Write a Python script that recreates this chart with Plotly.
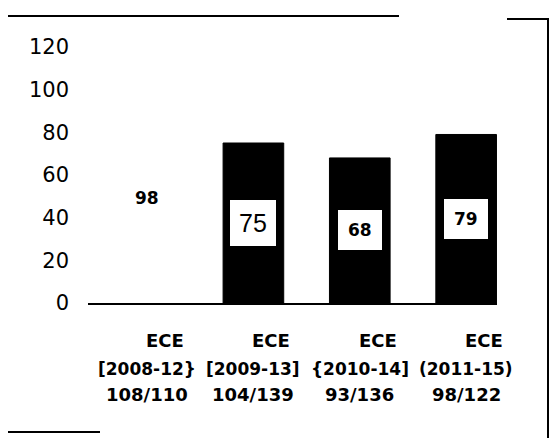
import plotly.graph_objects as go

categories = ["ECE (2008-12)", "ECE (2009-13)", "ECE (2010-14)", "ECE (2011-15)"]
values = [98, 75, 68, 79]
label_row1 = ["ECE", "ECE", "ECE", "ECE"]
label_row2 = ["[2008-12}", "[2009-13]", "{2010-14]", "(2011-15)"]
label_row3 = ["108/110", "104/139", "93/136", "98/122"]
bar_colors = ["white", "black", "black", "black"]
y_ticks = [0, 20, 40, 60, 80, 100, 120]

fig = go.Figure()
fig.add_trace(go.Bar(
    x=categories, y=values,
    marker=dict(color=bar_colors, line=dict(color=bar_colors, width=1)),
    width=0.57, showlegend=False, hoverinfo="skip",
))

annotations = []
# value labels in the middle of each bar
for i, (c, v) in enumerate(zip(categories, values)):
    if i == 0:
        annotations.append(dict(x=c, y=v / 2, xref="x", yref="y", text="<b>%d</b>" % v,
                                showarrow=False, font=dict(family="DejaVu Sans", size=17, color="black")))
    else:
        size = 25 if i == 1 else 17
        family = "Liberation Sans" if i == 1 else "DejaVu Sans"
        txt = "%d" % v if i == 1 else "<b>%d</b>" % v
        annotations.append(dict(x=c, y=v / 2, xref="x", yref="y", text=txt,
                                showarrow=False, bgcolor="white", bordercolor="black",
                                borderwidth=1, borderpad=9 if i == 1 else 10,
                                font=dict(family=family, size=size, color="black")))

# category labels (three rows)
rows = [(label_row1, -37, 18, 18), (label_row2, -66, 0, 17), (label_row3, -91, 0, 18)]
for texts, ysh, xsh, fsize in rows:
    for c, t in zip(categories, texts):
        annotations.append(dict(x=c, y=0, xref="x", yref="paper", text="<b>%s</b>" % t,
                                showarrow=False, yanchor="middle", yshift=ysh, xshift=xsh,
                                font=dict(family="DejaVu Sans", size=fsize, color="black")))

shapes = [
    dict(type="line", xref="paper", yref="paper", x0=(8 - 88) / 409, x1=(399 - 88) / 409,
         y0=(303 - 16) / 256, y1=(303 - 16) / 256, line=dict(color="black", width=2)),
    dict(type="line", xref="paper", yref="paper", x0=(507 - 88) / 409, x1=(549 - 88) / 409,
         y0=(303 - 19) / 256, y1=(303 - 19) / 256, line=dict(color="black", width=2)),
    dict(type="line", xref="paper", yref="paper", x0=(548 - 88) / 409, x1=(548 - 88) / 409,
         y0=(303 - 19) / 256, y1=(303 - 438) / 256, line=dict(color="black", width=2)),
    dict(type="line", xref="paper", yref="paper", x0=(8 - 88) / 409, x1=(100 - 88) / 409,
         y0=(303 - 432) / 256, y1=(303 - 432) / 256, line=dict(color="black", width=2)),
]

fig.update_layout(
    width=551, height=438,
    margin=dict(l=88, r=54, t=47, b=135),
    plot_bgcolor="white", paper_bgcolor="white",
    annotations=annotations,
    shapes=shapes,
    xaxis=dict(range=[-0.555, 3.29], showticklabels=False, showgrid=False, zeroline=False,
               showline=True, linecolor="black", linewidth=2, ticks=""),
    yaxis=dict(range=[0, 120], tickvals=y_ticks, showgrid=False, zeroline=False,
               showline=False, ticks="", ticklabelstandoff=18,
               tickfont=dict(family="DejaVu Sans", size=21, color="black")),
)

fig.write_html("out.html", config={"displayModeBar": False},
               post_script="document.body.style.margin='0px';")
